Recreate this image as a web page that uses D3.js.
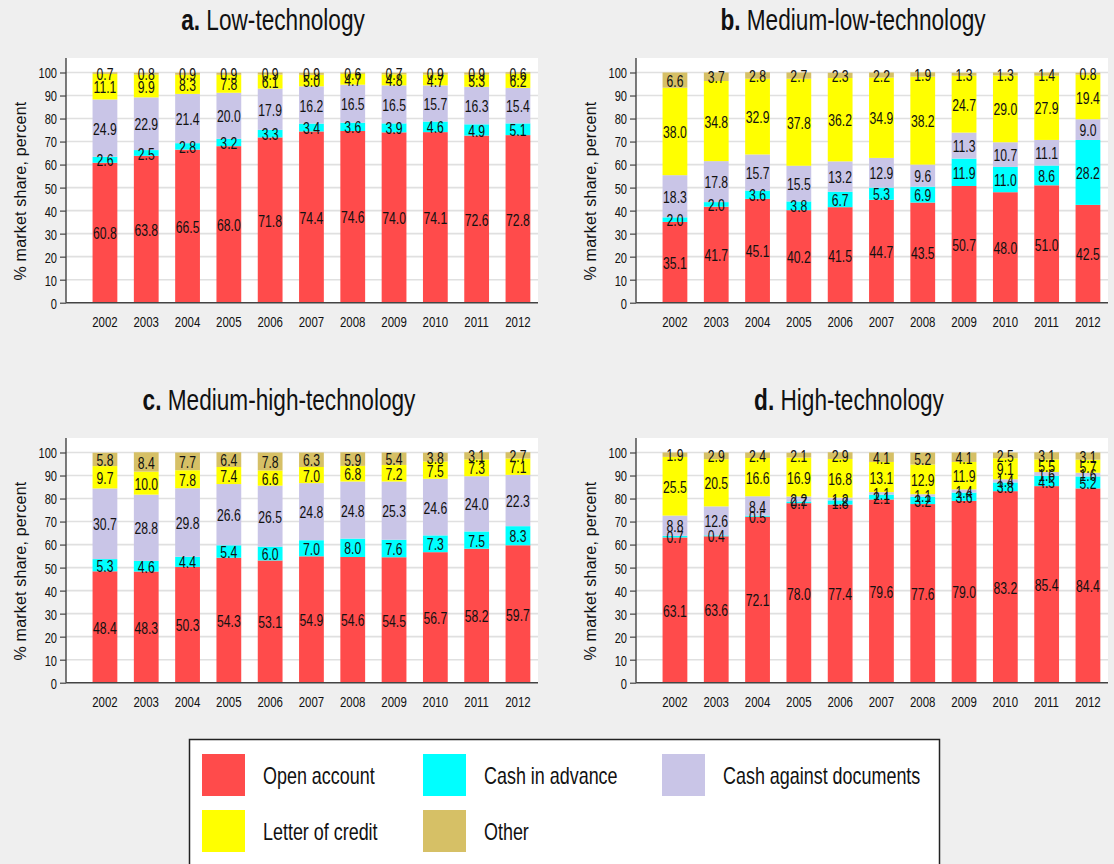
<!DOCTYPE html>
<html>
<head>
<meta charset="utf-8">
<script src="https://cdn.jsdelivr.net/npm/d3@7"></script>
<style>
  body { margin: 0; background: #efefef; }
  svg { display: block; }
  text { font-family: "Liberation Sans", Arial, Helvetica, sans-serif; fill: #111; }
</style>
</head>
<body>
<svg id="chart" width="1114" height="864"></svg>
<script>
// ---- data: market shares of payment terms, percent ----
const years = ["2002","2003","2004","2005","2006","2007","2008","2009","2010","2011","2012"];
const seriesNames = ["Open account", "Cash in advance", "Cash against documents", "Letter of credit", "Other"];
const seriesKeys = ["open", "advance", "documents", "credit", "other"];
const seriesColors = ["#ff4b4b", "#00ffff", "#c9c5e7", "#ffff00", "#d6c066"];
const yTicks = [0,10,20,30,40,50,60,70,80,90,100];

// a. Low-technology
const lowOpen      = [60.8, 63.8, 66.5, 68.0, 71.8, 74.4, 74.6, 74.0, 74.1, 72.6, 72.8];
const lowAdvance   = [2.6, 2.5, 2.8, 3.2, 3.3, 3.4, 3.6, 3.9, 4.6, 4.9, 5.1];
const lowDocuments = [24.9, 22.9, 21.4, 20.0, 17.9, 16.2, 16.5, 16.5, 15.7, 16.3, 15.4];
const lowCredit    = [11.1, 9.9, 8.3, 7.8, 6.1, 5.0, 4.7, 4.8, 4.7, 5.3, 6.2];
const lowOther     = [0.7, 0.8, 0.9, 0.9, 0.9, 0.9, 0.6, 0.7, 0.9, 0.9, 0.6];

// b. Medium-low-technology
const mlowOpen      = [35.1, 41.7, 45.1, 40.2, 41.5, 44.7, 43.5, 50.7, 48.0, 51.0, 42.5];
const mlowAdvance   = [2.0, 2.0, 3.6, 3.8, 6.7, 5.3, 6.9, 11.9, 11.0, 8.6, 28.2];
const mlowDocuments = [18.3, 17.8, 15.7, 15.5, 13.2, 12.9, 9.6, 11.3, 10.7, 11.1, 9.0];
const mlowCredit    = [38.0, 34.8, 32.9, 37.8, 36.2, 34.9, 38.2, 24.7, 29.0, 27.9, 19.4];
const mlowOther     = [6.6, 3.7, 2.8, 2.7, 2.3, 2.2, 1.9, 1.3, 1.3, 1.4, 0.8];

// c. Medium-high-technology
const mhighOpen      = [48.4, 48.3, 50.3, 54.3, 53.1, 54.9, 54.6, 54.5, 56.7, 58.2, 59.7];
const mhighAdvance   = [5.3, 4.6, 4.4, 5.4, 6.0, 7.0, 8.0, 7.6, 7.3, 7.5, 8.3];
const mhighDocuments = [30.7, 28.8, 29.8, 26.6, 26.5, 24.8, 24.8, 25.3, 24.6, 24.0, 22.3];
const mhighCredit    = [9.7, 10.0, 7.8, 7.4, 6.6, 7.0, 6.8, 7.2, 7.5, 7.3, 7.1];
const mhighOther     = [5.8, 8.4, 7.7, 6.4, 7.8, 6.3, 5.9, 5.4, 3.8, 3.1, 2.7];

// d. High-technology
const highOpen      = [63.1, 63.6, 72.1, 78.0, 77.4, 79.6, 77.6, 79.0, 83.2, 85.4, 84.4];
const highAdvance   = [0.7, 0.4, 0.5, 0.7, 1.8, 2.1, 3.2, 3.6, 3.8, 4.5, 5.2];
const highDocuments = [8.8, 12.6, 8.4, 2.2, 1.2, 1.1, 1.1, 1.4, 1.4, 1.6, 1.6];
const highCredit    = [25.5, 20.5, 16.6, 16.9, 16.8, 13.1, 12.9, 11.9, 9.1, 5.5, 5.7];
const highOther     = [1.9, 2.9, 2.4, 2.1, 2.9, 4.1, 5.2, 4.1, 2.5, 3.1, 3.1];

const panels = [
  { letter: "a.", name: "Low-technology",         dx: 0,   dy: 0,   titleX: 273, series: [lowOpen, lowAdvance, lowDocuments, lowCredit, lowOther] },
  { letter: "b.", name: "Medium-low-technology",  dx: 570, dy: 0,   titleX: 853, series: [mlowOpen, mlowAdvance, mlowDocuments, mlowCredit, mlowOther] },
  { letter: "c.", name: "Medium-high-technology", dx: 0,   dy: 380, titleX: 279, series: [mhighOpen, mhighAdvance, mhighDocuments, mhighCredit, mhighOther] },
  { letter: "d.", name: "High-technology",        dx: 570, dy: 380, titleX: 849, series: [highOpen, highAdvance, highDocuments, highCredit, highOther] }
];

// ---- layout ----
const W = 1114, H = 864;
const SX = 0.78;               // horizontal squeeze of titles and legend lettering
const SX_SMALL = 0.74;         // squeeze of tick and value lettering
const AXIS_X = 66, PLOT_R = 538, PLOT_T = 58;
const ZERO_Y = 302.7, TOP_Y = 72.5;

const svg = d3.select("#chart");
svg.append("rect").attr("width", W).attr("height", H).attr("fill", "#efefef");

const y = d3.scaleLinear().domain([0, 100]).range([ZERO_Y, TOP_Y]);
const x = d3.scaleBand().domain(years).range([84.3, 538.6]).paddingInner(0.4).paddingOuter(0.2);
const color = d3.scaleOrdinal().domain(seriesKeys).range(seriesColors);

function label(g, px, py, str, size, anchor, sx) {
  return g.append("text")
    .attr("transform", `translate(${px},${py}) scale(${sx || SX},1)`)
    .attr("text-anchor", anchor || "middle")
    .style("font-size", size + "px")
    .text(str);
}

panels.forEach(p => {
  const g = svg.append("g").attr("transform", `translate(${p.dx},${p.dy})`);

  // plot background
  g.append("rect")
    .attr("x", AXIS_X).attr("y", PLOT_T)
    .attr("width", PLOT_R - AXIS_X).attr("height", ZERO_Y - PLOT_T)
    .attr("fill", "#ffffff");

  // horizontal grid
  g.append("g").selectAll("line").data(yTicks.filter(t => t > 0)).join("line")
    .attr("x1", AXIS_X).attr("x2", PLOT_R)
    .attr("y1", d => y(d)).attr("y2", d => y(d))
    .attr("stroke", "#e0e0e0").attr("stroke-width", 1.6);

  // stacked bars
  const rows = years.map((yr, i) => {
    const r = { year: yr };
    seriesKeys.forEach((k, j) => { r[k] = p.series[j][i]; });
    return r;
  });
  const stacked = d3.stack().keys(seriesKeys)(rows);

  const layers = g.append("g").selectAll("g").data(stacked).join("g")
    .attr("fill", d => color(d.key));
  layers.selectAll("rect").data(d => d).join("rect")
    .attr("x", d => x(d.data.year))
    .attr("width", x.bandwidth())
    .attr("y", d => y(d[1]))
    .attr("height", d => y(d[0]) - y(d[1]));

  // value labels in the middle of each segment
  const lab = g.append("g");
  stacked.forEach(layer => {
    layer.forEach(d => {
      const cy = (y(d[0]) + y(d[1])) / 2;
      label(lab, x(d.data.year) + x.bandwidth() / 2, cy + 6.6, d3.format(".1f")(d.data[layer.key]), 16.5, "middle", SX_SMALL);
    });
  });

  // y axis
  const yAxis = g.append("g").attr("transform", `translate(${AXIS_X},0)`)
    .call(d3.axisLeft(y).tickValues(yTicks).tickSize(6).tickSizeOuter(0).tickPadding(9));
  yAxis.select(".domain").remove();
  yAxis.selectAll(".tick line").attr("stroke", "#444").attr("stroke-width", 1.2);
  yAxis.selectAll(".tick text")
    .attr("x", null).attr("dy", null)
    .attr("transform", `translate(-9,5.4) scale(${SX_SMALL},1)`)
    .style("font-size", "15px")
    .style("font-family", '"Liberation Sans", Arial, sans-serif')
    .attr("fill", "#111");
  g.append("line")
    .attr("x1", AXIS_X).attr("x2", AXIS_X).attr("y1", PLOT_T).attr("y2", ZERO_Y)
    .attr("stroke", "#444").attr("stroke-width", 1.4);

  // x axis
  const xAxis = g.append("g").attr("transform", `translate(0,${ZERO_Y})`)
    .call(d3.axisBottom(x).tickSize(0).tickPadding(0));
  xAxis.select(".domain").remove();
  xAxis.selectAll(".tick text")
    .attr("y", null).attr("dy", null)
    .attr("transform", `translate(0,23.8) scale(${SX_SMALL},1)`)
    .style("font-size", "15.5px")
    .style("font-family", '"Liberation Sans", Arial, sans-serif')
    .attr("fill", "#111");
  g.append("line")
    .attr("x1", AXIS_X).attr("x2", PLOT_R).attr("y1", ZERO_Y).attr("y2", ZERO_Y)
    .attr("stroke", "#444").attr("stroke-width", 1.4);

  // y axis title
  g.append("text")
    .attr("transform", "translate(25.5,191) rotate(-90)")
    .attr("text-anchor", "middle")
    .style("font-size", "16px")
    .style("letter-spacing", "0.2px")
    .text("% market share, percent");

  // panel title
  const t = g.append("text")
    .attr("transform", `translate(${p.titleX - p.dx},30) scale(${SX},1)`)
    .attr("text-anchor", "middle")
    .style("font-size", "29px");
  t.append("tspan").style("font-weight", "bold").text(p.letter);
  t.append("tspan").text(" " + p.name);
});

// ---- legend ----
const legend = svg.append("g");
legend.append("rect")
  .attr("x", 189.5).attr("y", 739.5).attr("width", 750).attr("height", 140)
  .attr("fill", "#ffffff").attr("stroke", "#222").attr("stroke-width", 1.5);

const legendCols = [202, 423, 662];
const legendRows = [754, 810];
seriesNames.forEach((name, i) => {
  const col = i % 3, row = Math.floor(i / 3);
  const sx = legendCols[col], sy = legendRows[row];
  legend.append("rect")
    .attr("x", sx).attr("y", sy).attr("width", 43).attr("height", 42)
    .attr("fill", seriesColors[i]);
  label(legend, sx + 61, sy + 21 + 8.5, name, 23, "start");
});
</script>
</body>
</html>
